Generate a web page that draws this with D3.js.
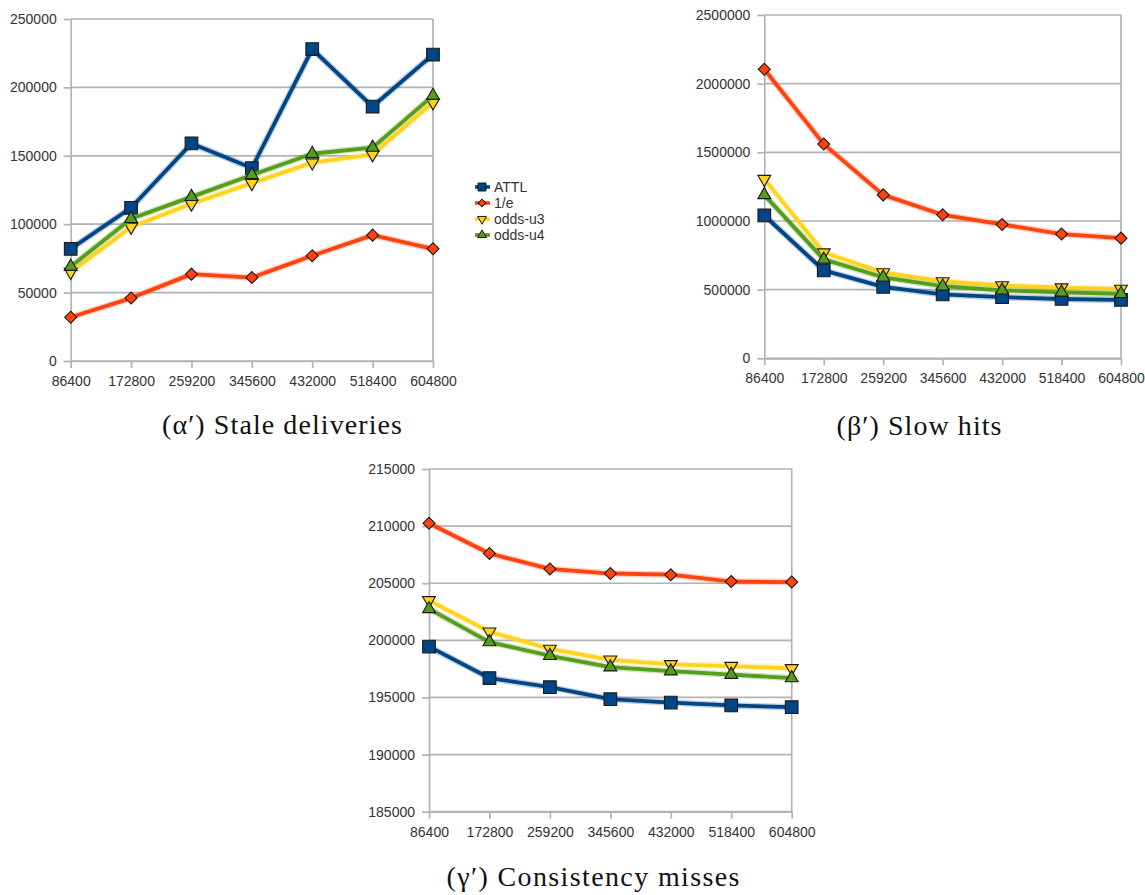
<!DOCTYPE html>
<html>
<head>
<meta charset="utf-8">
<title>Stale deliveries, slow hits, consistency misses</title>
<script src="https://cdn.jsdelivr.net/npm/d3@7"></script>
<style>
  body { margin: 0; background: #fff; }
  .tick text { font-family: "Liberation Sans", Arial, sans-serif; font-size: 14px; fill: #333; }
  .caption { font-family: "Liberation Serif", "DejaVu Serif", serif; font-size: 28px; fill: #111; }
  .legend text { font-family: "Liberation Sans", Arial, sans-serif; font-size: 14px; fill: #333; }
</style>
</head>
<body>
<div id="container"></div>
<script>
// Categories on the x axis (seconds)
const categories = [86400, 172800, 259200, 345600, 432000, 518400, 604800];
const seriesNames = ["ATTL", "1/e", "odds-u3", "odds-u4"];

// (α′) Stale deliveries
const staleAttl = [82000, 112000, 159000, 141000, 228000, 186000, 224000];
const staleInvE = [32000, 46000, 63500, 61000, 77000, 92000, 82000];
const staleU3   = [65000, 98000, 115000, 130000, 145000, 151000, 189000];
const staleU4   = [69000, 104000, 120000, 136000, 151500, 156000, 194000];
const staleTicks = [0, 50000, 100000, 150000, 200000, 250000];

// (β′) Slow hits
const slowAttl = [1040000, 640000, 520000, 465000, 445000, 432000, 425000];
const slowInvE = [2105000, 1560000, 1190000, 1045000, 975000, 905000, 875000];
const slowU3   = [1305000, 770000, 625000, 560000, 530000, 515000, 505000];
const slowU4   = [1190000, 720000, 590000, 525000, 495000, 480000, 470000];
const slowTicks = [0, 500000, 1000000, 1500000, 2000000, 2500000];

// (γ′) Consistency misses
const missAttl = [199450, 196700, 195900, 194850, 194550, 194300, 194150];
const missInvE = [210250, 207600, 206250, 205850, 205750, 205150, 205100];
const missU3   = [203500, 200750, 199250, 198300, 197900, 197750, 197550];
const missU4   = [202750, 199850, 198650, 197650, 197300, 197000, 196700];
const missTicks = [185000, 190000, 195000, 200000, 205000, 210000, 215000];

const width = 1145;
const height = 895;
const gridColor = "#b3b3b3";

// LibreOffice default palette and markers
const styles = [
    { color: "#004586", type: "square",  size: 160, legendSize: 64 },
    { color: "#ff420e", type: "diamond", size: 72,  legendSize: 30 },
    { color: "#ffd320", type: "down",    size: 72,  legendSize: 34 },
    { color: "#579d1c", type: "up",      size: 72,  legendSize: 34 }
];

function symbolPath(type, size) {
    if (type === "square" || type === "diamond") return d3.symbol(d3.symbolSquare, size)();
    return d3.symbol(d3.symbolTriangle, size)();
}
function symbolRotate(type) {
    if (type === "diamond") return 45;
    if (type === "down") return 180;
    return 0;
}

const svg = d3.create("svg")
    .attr("width", width)
    .attr("height", height);

function drawPanel(frame, yTicks, seriesValues) {
    const g = svg.append("g").attr("transform", `translate(${frame.x},${frame.y})`);

    const x = d3.scalePoint().domain(categories).range([0, frame.w]);
    const y = d3.scaleLinear().domain(d3.extent(yTicks)).range([frame.h, 0]);

    // horizontal gridlines
    g.append("g").selectAll("line")
        .data(yTicks)
        .join("line")
        .attr("x1", 0).attr("x2", frame.w)
        .attr("y1", d => y(d)).attr("y2", d => y(d))
        .attr("stroke", gridColor)
        .attr("stroke-width", 1.7);

    // right border of the plot area
    g.append("line")
        .attr("x1", frame.w).attr("x2", frame.w)
        .attr("y1", 0).attr("y2", frame.h)
        .attr("stroke", gridColor)
        .attr("stroke-width", 1.7);

    const yAxis = g.append("g")
        .call(d3.axisLeft(y).tickValues(yTicks).tickSize(7).tickSizeOuter(0).tickPadding(7).tickFormat(d3.format("d")));
    const xAxis = g.append("g")
        .attr("transform", `translate(0,${frame.h})`)
        .call(d3.axisBottom(x).tickSize(7).tickSizeOuter(0).tickPadding(8).tickFormat(d3.format("d")));

    [yAxis, xAxis].forEach(a => {
        a.select(".domain").attr("stroke", gridColor).attr("stroke-width", 1.7);
        a.selectAll(".tick line").attr("stroke", gridColor).attr("stroke-width", 1.7);
        a.attr("font-family", null).attr("font-size", null);
    });

    const line = d3.line()
        .x((d, i) => x(categories[i]))
        .y(d => y(d));

    seriesValues.forEach((vals, k) => {
        const st = styles[k];
        const s = g.append("g");
        // soft halo around the line, like the scaled screenshot
        s.append("path")
            .attr("d", line(vals))
            .attr("fill", "none")
            .attr("stroke", st.color)
            .attr("stroke-opacity", 0.25)
            .attr("stroke-width", 6.5)
            .attr("stroke-linejoin", "round");
        s.append("path")
            .attr("d", line(vals))
            .attr("fill", "none")
            .attr("stroke", st.color)
            .attr("stroke-width", 3.8)
            .attr("stroke-linejoin", "round");
        s.selectAll("path.marker")
            .data(vals)
            .join("path")
            .attr("class", "marker")
            .attr("d", symbolPath(st.type, st.size))
            .attr("transform", (d, i) => `translate(${x(categories[i])},${y(d)}) rotate(${symbolRotate(st.type)})`)
            .attr("fill", st.color)
            .attr("stroke", "#1a1a1a")
            .attr("stroke-width", 1.1);
    });
}

drawPanel({ x: 70.7, y: 19, w: 362.3, h: 342 }, staleTicks,
    [staleAttl, staleInvE, staleU3, staleU4]);
drawPanel({ x: 764.3, y: 15, w: 356.7, h: 343.3 }, slowTicks,
    [slowAttl, slowInvE, slowU3, slowU4]);
drawPanel({ x: 429, y: 469, w: 362.7, h: 342.7 }, missTicks,
    [missAttl, missInvE, missU3, missU4]);

// Legend of the first panel
const legend = svg.append("g")
    .attr("class", "legend")
    .attr("transform", "translate(482,187)");

const item = legend.selectAll("g")
    .data(seriesNames)
    .join("g")
    .attr("transform", (d, i) => `translate(0,${i * 16})`);

item.append("line")
    .attr("x1", -7).attr("x2", 8)
    .attr("stroke", (d, i) => styles[i].color)
    .attr("stroke-width", 3.6);
item.append("path")
    .attr("d", (d, i) => symbolPath(styles[i].type, styles[i].legendSize))
    .attr("transform", (d, i) => `rotate(${symbolRotate(styles[i].type)})`)
    .attr("fill", (d, i) => styles[i].color)
    .attr("stroke", "#1a1a1a")
    .attr("stroke-width", 1);
item.append("text")
    .attr("x", 12)
    .attr("dy", "0.35em")
    .text(d => d);

// Captions
const captions = [
    { text: "(α′) Stale deliveries", x: 282, y: 434, len: 240 },
    { text: "(β′) Slow hits", x: 919, y: 435, len: 165 },
    { text: "(γ′) Consistency misses", x: 593, y: 886, len: 293 }
];
svg.selectAll("text.caption")
    .data(captions)
    .join("text")
    .attr("class", "caption")
    .attr("x", d => d.x)
    .attr("y", d => d.y)
    .attr("text-anchor", "middle")
    .attr("textLength", d => d.len)
    .attr("lengthAdjust", "spacing")
    .text(d => d.text);

container.append(svg.node());
</script>
</body>
</html>
